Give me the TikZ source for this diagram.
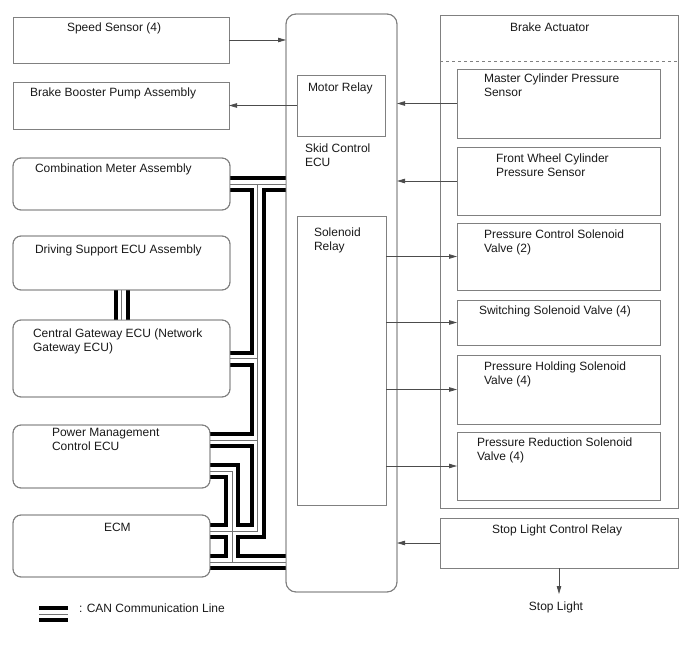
\documentclass[tikz,border=0pt]{standalone}
\usepackage{fontspec}
\setmainfont{Liberation Sans}
\usetikzlibrary{arrows.meta}
\begin{document}
\begin{tikzpicture}[x=1pt,y=-1pt,
  box/.style={draw=black!50, line width=0.9pt, inner sep=0pt, outer sep=0pt, anchor=north west},
  rbox/.style={box, rounded corners=8pt},
  lbl/.style={anchor=base west, inner sep=0pt, outer sep=0pt, font=\fontsize{12}{14}\selectfont, text=black!90},
  arr/.style={draw=black!70, line width=0.8pt, -{Triangle[length=8pt,width=4.5pt]}},
  canb/.style={line width=16pt, black, line join=miter},
  canw/.style={line width=8pt, white, line join=miter},
  canc/.style={line width=1pt, black!55, line join=miter},
  frame/.style={draw=black!50, line width=0.9pt},
]
\useasboundingbox (0,0) rectangle (688,658);

% named coordinates for CAN routing
\coordinate (tx) at (257.5,0);
\coordinate (sx) at (232,0);
\coordinate (p1) at (210,440);
\coordinate (p2) at (210,471);
\coordinate (e1) at (210,531);
\coordinate (e2) at (210,562);
\coordinate (lg1) at (39,614);
\coordinate (lg2) at (68,614);

% boxes (geometry)
\node[box, minimum width=216pt, minimum height=46pt] (speed) at (13,17) {};
\node[box, minimum width=216pt, minimum height=47pt] (booster) at (13,82) {};
\node[rbox, minimum width=217pt, minimum height=52pt] (combo) at (13,158) {};
\node[rbox, minimum width=217pt, minimum height=54pt] (drive) at (13,236) {};
\node[rbox, minimum width=217pt, minimum height=77pt] (gateway) at (13,320) {};
\node[rbox, minimum width=197pt, minimum height=63pt] (power) at (13,425) {};
\node[rbox, minimum width=197pt, minimum height=62pt] (ecm) at (13,515) {};
\node[box, rounded corners=10pt, minimum width=111pt, minimum height=578pt] (ecu) at (286,14) {};
\node[box, minimum width=88pt, minimum height=61pt] (motor) at (297,75) {};
\node[box, minimum width=89pt, minimum height=289pt] (solrel) at (297,216) {};
\node[box, minimum width=238pt, minimum height=493pt] (act) at (440,15) {};
\node[box, minimum width=203pt, minimum height=69pt] (master) at (457,69) {};
\node[box, minimum width=203pt, minimum height=68pt] (front) at (457,147) {};
\node[box, minimum width=203pt, minimum height=67pt] (pc) at (457,223) {};
\node[box, minimum width=203pt, minimum height=45pt] (sw) at (457,300) {};
\node[box, minimum width=203pt, minimum height=69pt] (ph) at (457,355) {};
\node[box, minimum width=203pt, minimum height=68pt] (pr) at (457,432) {};
\node[box, minimum width=238pt, minimum height=50pt] (slr) at (440,518) {};
\draw[draw=black!50, line width=0.8pt, dashed] ([yshift=-46pt]act.north west) -- ([yshift=-46pt]act.north east);

% CAN lines, three layers
\foreach \st in {canb,canw,canc}{
  \draw[\st] (combo.east) -- (combo.east -| ecu.west);
  \draw[\st] (combo.east -| tx) -- (e1 -| tx) -- (e1);
  \draw[\st] (gateway.east) -- (gateway.east -| tx);
  \draw[\st] (p1) -- (p1 -| tx);
  \draw[\st] (p2) -- (p2 -| sx) -- (e2 -| sx);
  \draw[\st] (e2) -- (e2 -| ecu.west);
  \draw[\st] (drive.south) -- (gateway.north);
  \draw[\st] (lg1) -- (lg2);
}
% redraw box borders over line ends
\draw[frame, rounded corners=8pt] (combo.north west) rectangle (combo.south east);
\draw[frame, rounded corners=8pt] (drive.north west) rectangle (drive.south east);
\draw[frame, rounded corners=8pt] (gateway.north west) rectangle (gateway.south east);
\draw[frame, rounded corners=8pt] (power.north west) rectangle (power.south east);
\draw[frame, rounded corners=8pt] (ecm.north west) rectangle (ecm.south east);
\draw[frame, rounded corners=10pt] (ecu.north west) rectangle (ecu.south east);

% labels (base anchor of multi-line labels is the last line's baseline)
\node[lbl] (tspeed) at (67,32) {Speed Sensor (4)};
\node[lbl] (tbooster) at (30,97) {Brake Booster Pump Assembly};
\node[lbl] (tcombo) at (35,172) {Combination Meter Assembly};
\node[lbl] (tdrive) at (35,253) {Driving Support ECU Assembly};
\node[lbl, align=left] (tgw) at (33,351) {Central Gateway ECU (Network\\Gateway ECU)};
\node[lbl, align=left] (tpower) at (52,450) {Power Management\\Control ECU};
\node[lbl] (tecm) at (104,531) {ECM};
\node[lbl] (tmotor) at (308,92) {Motor Relay};
\node[lbl, align=left] (tecu) at (305,167) {Skid Control\\ECU};
\node[lbl, align=left] (tsol) at (314,250) {Solenoid\\Relay};
\node[lbl] (tact) at (510,32) {Brake Actuator};
\node[lbl, align=left] (tmaster) at (484,97) {Master Cylinder Pressure\\Sensor};
\node[lbl, align=left] (tfront) at (496,176) {Front Wheel Cylinder\\Pressure Sensor};
\node[lbl, align=left] (tpc) at (484,252) {Pressure Control Solenoid\\Valve (2)};
\node[lbl] (tsw) at (479,314) {Switching Solenoid Valve (4)};
\node[lbl, align=left] (tph) at (484,384) {Pressure Holding Solenoid\\Valve (4)};
\node[lbl, align=left] (tpr) at (477,460) {Pressure Reduction Solenoid\\Valve (4)};
\node[lbl] (tslr) at (492,533) {Stop Light Control Relay};
\node[lbl, anchor=base] (tstop) at (556,610) {Stop Light};
\node[lbl] (tleg) at (79,612) {: CAN Communication Line};
\coordinate (stp) at (559,594);

% arrows
\draw[arr] (speed.east) -- (speed.east -| ecu.west);
\draw[arr] (motor.west) -- (booster.east);
\draw[arr] (master.west) -- (master.west -| ecu.east);
\draw[arr] (front.west) -- (front.west -| ecu.east);
\draw[arr] (pc.west -| solrel.east) -- (pc.west);
\draw[arr] (sw.west -| solrel.east) -- (sw.west);
\draw[arr] (ph.west -| solrel.east) -- (ph.west);
\draw[arr] (pr.west -| solrel.east) -- (pr.west);
\draw[arr] (slr.west) -- (slr.west -| ecu.east);
\draw[arr] (slr.south) -- (stp);
\end{tikzpicture}
\end{document}
